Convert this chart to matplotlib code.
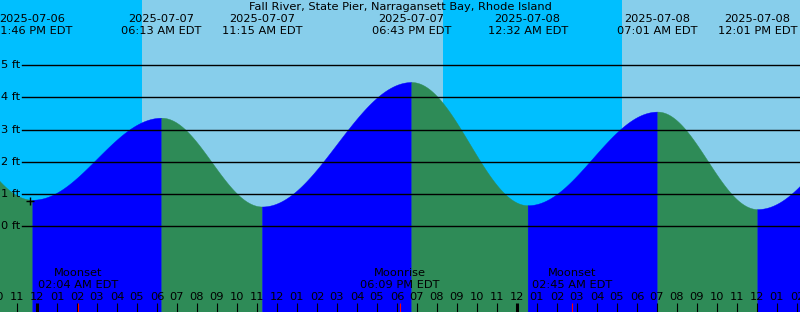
import numpy as np
import pandas as pd
import matplotlib
matplotlib.use('Agg')
import matplotlib.pyplot as plt
import matplotlib.transforms as mtransforms

plt.rcParams['font.family'] = ['DejaVu Sans']

# Data (times local EDT)
title = "Fall River, State Pier, Narragansett Bay, Rhode Island"
origin = pd.Timestamp('2025-07-07 00:00')

# tide extremes; first and last are just off the chart
tide_times = ['2025-07-06 17:40', '2025-07-06 23:46', '2025-07-07 06:13', '2025-07-07 11:15',
              '2025-07-07 18:43', '2025-07-08 00:32', '2025-07-08 07:01', '2025-07-08 12:01',
              '2025-07-08 19:30']
tide_heights = [4.3, 0.82, 3.37, 0.61, 4.48, 0.65, 3.56, 0.53, 4.4]

sunrise_times = ['2025-07-07 05:15', '2025-07-08 05:15']
sunset_times = ['2025-07-07 20:18', '2025-07-08 20:19']

moon_times = ['2025-07-07 02:04', '2025-07-07 18:09', '2025-07-08 02:45']
moon_events = ['Moonset', 'Moonrise', 'Moonset']

now_time = '2025-07-06 23:39'
height_levels = [0, 1, 2, 3, 4, 5]

# colours
night_sky = '#00bfff'
day_sky = '#87ceeb'
rising = '#0000ff'
falling = '#2e8b57'


def hours(ts):
    return (pd.to_datetime(ts) - origin) / pd.Timedelta(hours=1)


t_ext = np.array([hours(t) for t in tide_times])
h_ext = np.array(tide_heights)

x_lo, x_hi = -1.85, 38.15
y_lo, y_hi = -2.67, 7.03

fig = plt.figure(figsize=(8, 3.12), dpi=100)
ax = fig.add_axes([0, 0, 1, 1])
ax.set_xlim(x_lo, x_hi)
ax.set_ylim(y_lo, y_hi)
ax.axis('off')

# sky
ax.axvspan(x_lo, x_hi, color=night_sky, lw=0)
for sr, ss in zip(sunrise_times, sunset_times):
    ax.axvspan(hours(sr), hours(ss), color=day_sky, lw=0)

# water: cosine between consecutive extremes, one fill per segment
curve_t, curve_h = [], []
for i in range(len(t_ext) - 1):
    seg_t = np.linspace(t_ext[i], t_ext[i + 1], 300)
    frac = (seg_t - t_ext[i]) / (t_ext[i + 1] - t_ext[i])
    seg_h = h_ext[i] + (h_ext[i + 1] - h_ext[i]) * (1 - np.cos(np.pi * frac)) / 2
    col = rising if h_ext[i + 1] > h_ext[i] else falling
    ax.fill_between(seg_t, y_lo, seg_h, color=col, lw=0.3, edgecolor=col)
    curve_t.append(seg_t)
    curve_h.append(seg_h)
curve_t = np.concatenate(curve_t)
curve_h = np.concatenate(curve_h)

# height lines
fs = 8.2
left = mtransforms.blended_transform_factory(ax.transAxes, ax.transData)
for lev in height_levels:
    ax.axhline(lev, xmin=22 / 800, xmax=1, color='black', lw=1.0)
    ax.text(20.5 / 800, lev, f'{lev} ft', transform=left, ha='right', va='center', fontsize=fs)

top = mtransforms.blended_transform_factory(ax.transData, ax.transAxes)

# title and extreme labels
ax.text(0.5, 1 - 7 / 312, title, transform=ax.transAxes, ha='center', va='center', fontsize=fs)
for ts in tide_times:
    tx = hours(ts)
    if x_lo - 3 < tx < x_hi + 3:
        d = pd.Timestamp(ts)
        ax.text(tx, 1 - 19.5 / 312, d.strftime('%Y-%m-%d'), transform=top, ha='center', va='center', fontsize=fs)
        ax.text(tx, 1 - 31.5 / 312, d.strftime('%I:%M %p EDT'), transform=top, ha='center', va='center', fontsize=fs)

# now marker
now_t = hours(now_time)
now_h = np.interp(now_t, curve_t, curve_h)
ax.plot([now_t], [now_h - 0.05], marker='+', color='black', ms=6, mew=1)

# moon events
for ts, name in zip(moon_times, moon_events):
    mx = hours(ts)
    d = pd.Timestamp(ts)
    ax.text(mx, 1 - 273 / 312, name, transform=top, ha='center', va='center', fontsize=fs)
    ax.text(mx, 1 - 285.5 / 312, d.strftime('%I:%M %p EDT'), transform=top, ha='center', va='center', fontsize=fs)

# hour ticks
for hr in range(-2, 39):
    clock = (hr % 24) % 12 or 12
    ax.text(hr, 1 - 297 / 312, f'{clock:02d}', transform=top, ha='center', va='center', fontsize=fs)
    ax.plot([hr, hr], [0, 9 / 312], transform=top, color='black',
            lw=2.2 if hr % 24 == 0 else 0.8, solid_capstyle='butt')
for ts in moon_times:
    mx = hours(ts)
    ax.plot([mx, mx], [0, 9 / 312], transform=top, color='red', lw=0.8, solid_capstyle='butt')

fig.savefig('out.png', dpi=100)
